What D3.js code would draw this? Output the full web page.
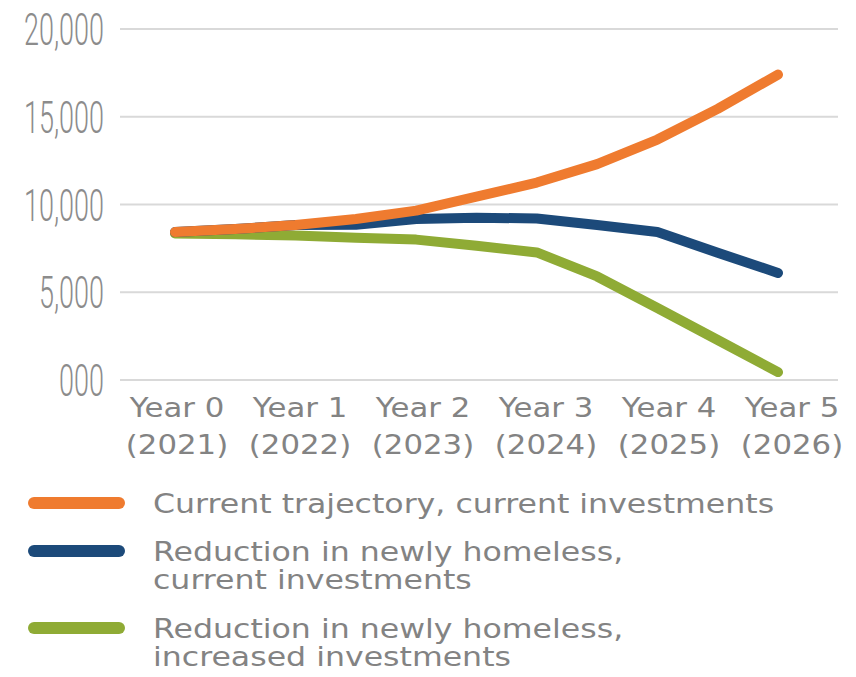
<!DOCTYPE html>
<html lang="en">

<head>
  <meta charset="UTF-8">
  <title>Homelessness projection</title>
  <script src="https://cdn.jsdelivr.net/npm/d3@7"></script>
  <style>
    body { margin: 0; background: #fff; }
    svg { display: block; }
    text { font-family: 'DejaVu Sans', sans-serif; fill: #838383; }
    .ylab { font-family: Roboto, 'Liberation Sans', sans-serif; font-weight: 300; fill: #8c8c8c; }
  </style>
</head>

<body>
  <div id="app"></div>
</body>

</html>
<script>
  // half-year steps, Year 0 .. Year 5
  const periods = [0, 0.5, 1, 1.5, 2, 2.5, 3, 3.5, 4, 4.5, 5];
  const currentTrajectory = [8430, 8600, 8830, 9170, 9650, 10450, 11250, 12300, 13700, 15450, 17400];
  const reductionCurrent = [8430, 8600, 8830, 8850, 9170, 9250, 9200, 8830, 8430, 7250, 6100];
  const reductionIncreased = [8350, 8300, 8230, 8100, 8000, 7650, 7270, 5900, 4100, 2280, 450];

  const yearLabels = ['Year 0', 'Year 1', 'Year 2', 'Year 3', 'Year 4', 'Year 5'];
  const yearNotes = ['(2021)', '(2022)', '(2023)', '(2024)', '(2025)', '(2026)'];
  const yTicks = [0, 5000, 10000, 15000, 20000];
  const yTickLabels = ['000', '5,000', '10,000', '15,000', '20,000'];

  const seriesNames = [
    ['Current trajectory, current investments'],
    ['Reduction in newly homeless,', 'current investments'],
    ['Reduction in newly homeless,', 'increased investments']
  ];
  const seriesColors = ['#ef7b2f', '#1c4a7a', '#8fab35'];

  const w = 856;
  const h = 677;
  const stretch = 1.14; // the original font is wider than DejaVu
  const legendStretch = 1.17;

  const svg = d3.select('#app')
    .append('svg')
    .attr('width', w)
    .attr('height', h);

  const xScale = d3.scaleLinear().domain([0, 5]).range([175, 778]);
  const yScale = d3.scaleLinear().domain([0, 20000]).range([380, 29]);
  const labelScale = d3.scalePoint().domain(yearLabels).range([177, 792]);

  // gridlines
  svg.append('g')
    .selectAll('line')
    .data(yTicks)
    .enter()
    .append('line')
    .attr('x1', 120)
    .attr('x2', 838)
    .attr('y1', d => yScale(d))
    .attr('y2', d => yScale(d))
    .attr('stroke', '#d9d9d9')
    .attr('stroke-width', 2);

  // y labels, condensed
  svg.append('g')
    .selectAll('text')
    .data(yTicks)
    .enter()
    .append('text')
    .attr('class', 'ylab')
    .attr('transform', d => `translate(104, ${yScale(d) + 16}) scale(0.6, 1)`)
    .attr('text-anchor', 'end')
    .style('font-size', '45px')
    .text((d, i) => yTickLabels[i]);

  // x labels
  const xl = svg.append('g');
  xl.selectAll('text.yr')
    .data(yearLabels)
    .enter()
    .append('text')
    .attr('class', 'yr')
    .attr('transform', d => `translate(${labelScale(d)}, 417) scale(${stretch}, 1)`)
    .attr('text-anchor', 'middle')
    .style('font-size', '27px')
    .text(d => d);
  xl.selectAll('text.note')
    .data(yearNotes)
    .enter()
    .append('text')
    .attr('class', 'note')
    .attr('transform', (d, i) => `translate(${labelScale(yearLabels[i])}, 454) scale(${stretch}, 1)`)
    .attr('text-anchor', 'middle')
    .style('font-size', '27px')
    .text(d => d);

  const line = d3.line()
    .x((d, i) => xScale(periods[i]))
    .y(d => yScale(d));

  const allSeries = [currentTrajectory, reductionCurrent, reductionIncreased];
  // draw green first, orange last (on top)
  [2, 1, 0].forEach(k => {
    svg.append('path')
      .datum(allSeries[k])
      .attr('d', line)
      .attr('fill', 'none')
      .attr('stroke', seriesColors[k])
      .attr('stroke-width', 10)
      .attr('stroke-linecap', 'round')
      .attr('stroke-linejoin', 'round');
  });

  // legend
  const legendTop = [513, 561, 638];
  const legend = svg.append('g');
  seriesNames.forEach((lines, k) => {
    legend.append('line')
      .attr('x1', 34)
      .attr('x2', 119)
      .attr('y1', legendTop[k] - 10)
      .attr('y2', legendTop[k] - 10)
      .attr('stroke', seriesColors[k])
      .attr('stroke-width', 12)
      .attr('stroke-linecap', 'round');
    lines.forEach((t, j) => {
      legend.append('text')
        .attr('transform', `translate(153, ${legendTop[k] + j * 28}) scale(${legendStretch}, 1)`)
        .style('font-size', '27px')
        .text(t);
    });
  });
</script>
